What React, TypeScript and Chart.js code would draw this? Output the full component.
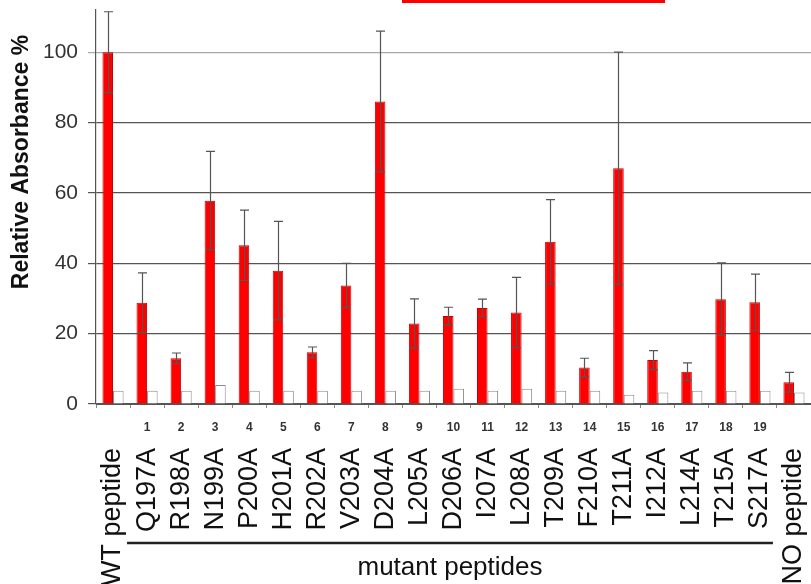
import React, { useEffect, useRef } from "react";
import { Chart, registerables } from "chart.js";

Chart.register(...registerables);

const categories = [
  "WT peptide", "Q197A", "R198A", "N199A", "P200A", "H201A", "R202A", "V203A",
  "D204A", "L205A", "D206A", "I207A", "L208A", "T209A", "F210A", "T211A",
  "I212A", "L214A", "T215A", "S217A", "NO peptide",
];
const mutantNumbers = [
  "", "1", "2", "3", "4", "5", "6", "7", "8", "9", "10", "11", "12", "13", "14",
  "15", "16", "17", "18", "19", "",
];
const peptideValues = [
  100, 28.8, 13, 57.8, 45.1, 37.9, 14.7, 33.7, 86, 22.9, 25, 27.3, 26, 46.1,
  10.4, 67, 12.5, 9.2, 29.8, 28.9, 6.2,
];
const peptideErrors = [
  11.5, 8.5, 1.5, 14, 10, 14, 1.5, 6.3, 20, 7, 2.5, 2.5, 10, 12, 2.6, 33, 2.7,
  2.5, 10.3, 8, 2.8,
];
const controlValues = [
  3.8, 3.8, 3.8, 5.4, 3.8, 3.8, 3.8, 3.8, 3.8, 3.8, 4.3, 3.8, 4.3, 3.8, 3.8,
  2.6, 3.3, 3.8, 3.8, 3.8, 3.3,
];
const yTicks = [0, 20, 40, 60, 80, 100];
const yAxisTitle = "Relative Absorbance %";
const groupTitle = "mutant peptides";

const FONT = "'Liberation Sans', Arial, sans-serif";

const errorBarPlugin = {
  id: "errorBars",
  afterDatasetsDraw(chart: any) {
    const ctx = chart.ctx;
    const meta = chart.getDatasetMeta(0);
    const y = chart.scales.y;
    ctx.save();
    ctx.strokeStyle = "#555";
    ctx.lineWidth = 1.2;
    meta.data.forEach((bar: any, i: number) => {
      const v = peptideValues[i];
      const e = peptideErrors[i];
      const x = Math.round(bar.x) + 0.5;
      const yHi = y.getPixelForValue(v + e);
      const yLo = y.getPixelForValue(Math.max(0, v - e));
      const cap = 4.5;
      ctx.beginPath();
      ctx.moveTo(x, yHi);
      ctx.lineTo(x, yLo);
      ctx.moveTo(x - cap, yHi);
      ctx.lineTo(x + cap, yHi);
      ctx.moveTo(x - cap, yLo);
      ctx.lineTo(x + cap, yLo);
      ctx.stroke();
    });
    ctx.restore();
  },
};

const annotationPlugin = {
  id: "annotations",
  afterDraw(chart: any) {
    const ctx = chart.ctx;
    const area = chart.chartArea;
    const x = chart.scales.x;
    ctx.save();
    // y-axis title
    ctx.translate(22, area.top + 152);
    ctx.rotate(-Math.PI / 2);
    ctx.font = `bold 23px ${FONT}`;
    ctx.fillStyle = "#111";
    ctx.textAlign = "center";
    ctx.textBaseline = "middle";
    ctx.fillText(yAxisTitle, 0, 0);
    ctx.restore();

    // mutant group bracket
    const half = (x.right - x.left) / categories.length / 2;
    const x0 = x.getPixelForValue(1) - half - 3;
    const x1 = x.getPixelForValue(categories.length - 2) + half - 4;
    ctx.save();
    ctx.strokeStyle = "#222";
    ctx.lineWidth = 2.5;
    ctx.beginPath();
    ctx.moveTo(x0, 543);
    ctx.lineTo(x1, 543);
    ctx.stroke();
    ctx.font = `26px ${FONT}`;
    ctx.fillStyle = "#111";
    ctx.textAlign = "center";
    ctx.textBaseline = "middle";
    ctx.fillText(groupTitle, (x0 + x1) / 2, 568);
    ctx.restore();
  },
};

const noPad = (s: any) => {
  s.paddingLeft = 0;
  s.paddingRight = 0;
  s.paddingTop = 0;
  s.paddingBottom = 0;
};

export default function App() {
  const ref = useRef<HTMLCanvasElement | null>(null);

  useEffect(() => {
    document.body.style.margin = "0";
    const canvas = ref.current;
    if (!canvas) return;
    const chart = new Chart(canvas, {
      type: "bar",
      data: {
        labels: categories,
        datasets: [
          {
            label: "peptide",
            data: peptideValues,
            backgroundColor: "#ff0000",
            borderColor: "#c80000",
            borderWidth: 1,
            xAxisID: "x",
          },
          {
            label: "control",
            data: controlValues,
            backgroundColor: "#ffffff",
            borderColor: "#8a8a8a",
            borderWidth: 1,
            xAxisID: "x",
          },
        ],
      },
      options: {
        responsive: false,
        animation: false,
        devicePixelRatio: 1,
        layout: { padding: { top: 10, left: 0, right: 0, bottom: 0 } },
        plugins: {
          legend: { display: false },
          tooltip: { enabled: false },
          title: { display: false },
        },
        datasets: {
          bar: { categoryPercentage: 0.62, barPercentage: 1.0 },
        },
        scales: {
          x: {
            type: "category",
            position: "bottom",
            grid: {
              drawOnChartArea: false,
              drawTicks: true,
              tickLength: 4,
              color: "#888",
            },
            border: { display: true, color: "#555", width: 1 },
            ticks: {
              autoSkip: false,
              maxRotation: 0,
              minRotation: 0,
              padding: 12,
              color: "#333",
              font: { family: FONT, size: 12, weight: "bold" },
              callback: (_v: any, i: number) => mutantNumbers[i],
            },
            afterFit: (s: any) => {
              s.height = 36;
              noPad(s);
            },
          },
          x2: {
            type: "category",
            position: "bottom",
            grid: { display: false, drawTicks: false },
            border: { display: false },
            ticks: {
              autoSkip: false,
              maxRotation: 90,
              minRotation: 90,
              padding: 8,
              color: "#111",
              font: { family: FONT, size: 27 },
            },
            afterFit: (s: any) => {
              s.height = 144;
              noPad(s);
            },
          },
          y: {
            type: "linear",
            min: 0,
            max: 112,
            grid: {
              color: (c: any) =>
                c.tick && c.tick.value === 100 ? "#a8a8a8" : "#555",
              lineWidth: 1.2,
              drawTicks: true,
              tickLength: 8,
            },
            border: { display: true, color: "#555", width: 1.2 },
            ticks: {
              stepSize: 20,
              padding: 10,
              color: "#333",
              font: { family: FONT, size: 21 },
            },
            afterBuildTicks: (s: any) => {
              s.ticks = yTicks.map((v) => ({ value: v }));
            },
            afterFit: (s: any) => {
              s.width = 96;
              noPad(s);
            },
          },
        },
      },
      plugins: [errorBarPlugin, annotationPlugin],
    } as any);
    return () => chart.destroy();
  }, []);

  return (
    <div style={{ position: "relative", width: 811, height: 584, background: "#fff", overflow: "hidden" }}>
      <canvas ref={ref} width={811} height={584} style={{ display: "block" }} />
      <div
        style={{
          position: "absolute",
          left: 402,
          top: 0,
          width: 263,
          height: 3,
          background: "#ff0000",
        }}
      />
    </div>
  );
}
